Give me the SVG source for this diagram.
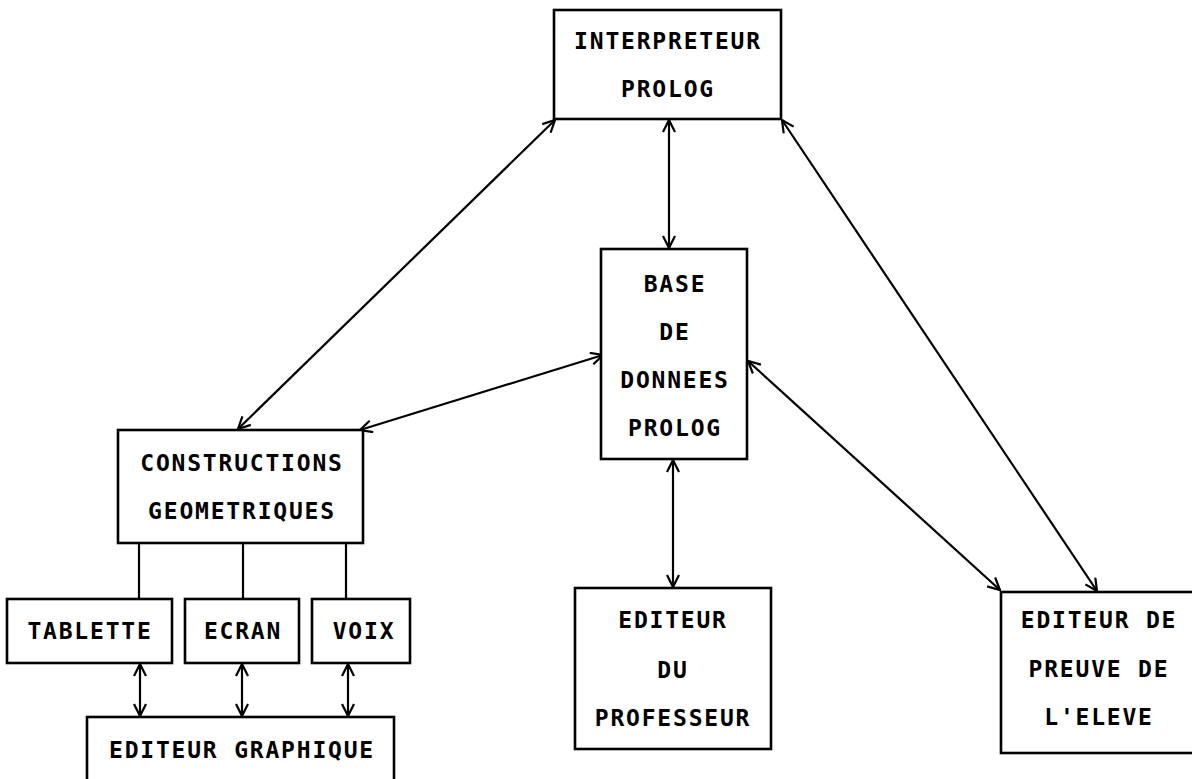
<svg xmlns="http://www.w3.org/2000/svg" width="1192" height="779" viewBox="0 0 1192 779">
<style>
.box{fill:#fff;stroke:#000;stroke-width:2.6}
.t{font-family:"DejaVu Sans Mono","Liberation Mono",monospace;font-size:23px;font-weight:bold;letter-spacing:1.8px;text-anchor:middle;fill:#000}
.c{stroke:#000;stroke-width:2.2;fill:none}
.a{marker-start:url(#ah);marker-end:url(#ah)}
</style>
<defs>
<marker id="ah" viewBox="0 0 14 14" refX="13" refY="7" markerWidth="14" markerHeight="14" markerUnits="userSpaceOnUse" orient="auto-start-reverse">
<path d="M1,1 L13,7 L1,13" fill="none" stroke="#000" stroke-width="2.2"/>
</marker>
</defs>
<rect width="1192" height="779" fill="#fff"/>
<g id="connectors">
<line class="c a" x1="555" y1="120" x2="238" y2="429"/>
<line class="c a" x1="669" y1="120" x2="669" y2="248"/>
<line class="c a" x1="782" y1="120" x2="1097" y2="591"/>
<line class="c a" x1="603" y1="355" x2="360" y2="430"/>
<line class="c a" x1="748" y1="361" x2="1000" y2="590"/>
<line class="c a" x1="673" y1="460" x2="673" y2="587"/>
<line class="c" x1="139" y1="543" x2="139" y2="599"/>
<line class="c" x1="243" y1="543" x2="243" y2="599"/>
<line class="c" x1="346" y1="543" x2="346" y2="599"/>
<line class="c a" x1="140" y1="664" x2="140" y2="716"/>
<line class="c a" x1="242" y1="664" x2="242" y2="716"/>
<line class="c a" x1="348" y1="664" x2="348" y2="716"/>
</g>
<g id="interpreteur">
<rect class="box" x="554" y="10" width="227" height="109"/>
<text class="t" x="668" y="49">INTERPRETEUR</text>
<text class="t" x="668" y="97">PROLOG</text>
</g>
<g id="base">
<rect class="box" x="601" y="249" width="146" height="210"/>
<text class="t" x="675" y="292">BASE</text>
<text class="t" x="675" y="340">DE</text>
<text class="t" x="675" y="388">DONNEES</text>
<text class="t" x="675" y="436">PROLOG</text>
</g>
<g id="constructions">
<rect class="box" x="118" y="430" width="245" height="113"/>
<text class="t" x="242" y="471">CONSTRUCTIONS</text>
<text class="t" x="242" y="519">GEOMETRIQUES</text>
</g>
<g id="tablette">
<rect class="box" x="7" y="599" width="165" height="64"/>
<text class="t" x="90" y="639">TABLETTE</text>
</g>
<g id="ecran">
<rect class="box" x="185" y="599" width="114" height="64"/>
<text class="t" x="243" y="639">ECRAN</text>
</g>
<g id="voix">
<rect class="box" x="312" y="599" width="98" height="64"/>
<text class="t" x="364" y="639">VOIX</text>
</g>
<g id="editeur-graphique">
<rect class="box" x="87" y="717" width="307" height="80"/>
<text class="t" x="242" y="758">EDITEUR GRAPHIQUE</text>
</g>
<g id="professeur">
<rect class="box" x="575" y="588" width="196" height="161"/>
<text class="t" x="673" y="628">EDITEUR</text>
<text class="t" x="673" y="678">DU</text>
<text class="t" x="673" y="726">PROFESSEUR</text>
</g>
<g id="preuve">
<rect class="box" x="1001" y="592" width="210" height="161"/>
<text class="t" x="1099" y="628">EDITEUR DE</text>
<text class="t" x="1099" y="677">PREUVE DE</text>
<text class="t" x="1099" y="725">L'ELEVE</text>
</g>
</svg>
